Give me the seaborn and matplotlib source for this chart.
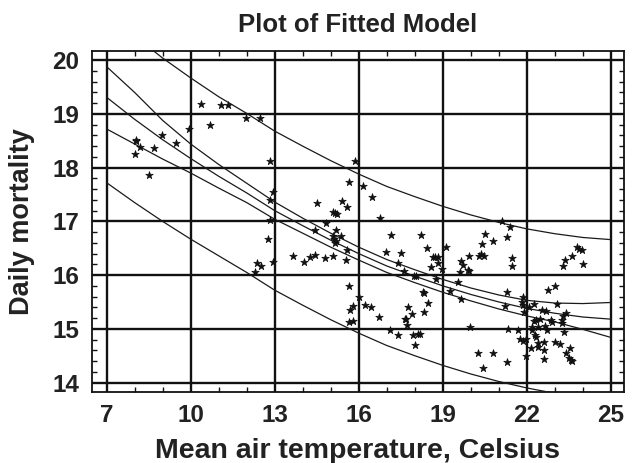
import numpy as np
import pandas as pd
import matplotlib
matplotlib.use("Agg")
import matplotlib.pyplot as plt
import seaborn as sns
from matplotlib.ticker import MultipleLocator

# ---- data ----
temp = [8.00, 8.05, 8.05, 8.19, 8.51, 8.70, 8.98, 9.49, 9.93, 10.37, 10.71, 11.07, 11.34, 11.96, 12.47,
        12.83, 12.93, 12.83, 12.83, 12.77, 12.93, 12.38, 12.53, 12.31,
        13.64, 14.06, 14.26, 14.45, 14.80, 15.07, 15.54,
        14.50, 15.41, 15.58, 15.07, 15.16, 15.21, 14.83, 14.45, 15.18, 15.37, 15.09, 15.13, 15.18, 15.14, 15.58,
        15.86, 15.65, 16.15, 16.46, 16.75,
        17.16, 16.96, 17.51, 17.42, 17.63,
        15.65, 16.01, 15.81, 15.69, 16.21, 16.43, 15.79, 15.65, 16.74,
        17.75, 17.69, 17.65, 17.74, 17.91, 17.12, 17.42, 17.95, 18.13, 18.20, 18.02,
        18.33, 18.49, 18.28, 18.33, 19.26, 19.54, 19.65,
        18.23, 18.43, 19.11, 18.67, 18.74, 18.82, 18.83, 18.58, 18.99, 17.97, 18.04, 18.76,
        19.65, 19.71, 19.89, 19.94, 19.62, 19.92, 20.29, 20.35, 20.47, 20.51, 20.41, 20.79, 21.30, 21.13, 21.40,
        19.96, 21.30, 21.24, 21.32, 20.25, 20.79, 20.43, 21.29,
        21.46, 21.46, 22.74, 23.01, 21.86, 21.82, 21.86, 22.27, 22.08, 23.09, 21.90, 22.53, 22.69, 23.39, 23.31,
        22.24, 22.34, 22.48, 22.87, 22.89, 23.25, 23.25, 22.20, 22.65, 22.41, 22.71, 21.70, 22.20, 23.34,
        21.76, 21.88, 21.96, 22.30, 22.32, 22.63, 23.01, 23.19, 22.39, 22.41, 22.15, 23.55, 23.40, 22.62,
        21.98, 23.49, 23.58, 23.63, 22.62,
        23.79, 23.86, 23.97, 23.63, 23.37, 23.29, 24.02]
mortality = [18.26, 18.52, 18.49, 18.39, 17.87, 18.36, 18.61, 18.45, 18.72, 19.19, 18.79, 19.17, 19.17, 18.93, 18.92,
             18.12, 17.55, 17.39, 17.03, 16.68, 16.25, 16.23, 16.17, 16.06,
             16.35, 16.25, 16.33, 16.37, 16.32, 16.35, 16.28,
             17.35, 17.38, 17.27, 17.17, 17.15, 17.14, 16.96, 16.83, 16.84, 16.73, 16.73, 16.67, 16.64, 16.60, 16.46,
             18.12, 17.74, 17.65, 17.45, 17.06,
             16.75, 16.43, 16.41, 16.22, 16.07,
             15.79, 15.60, 15.43, 15.35, 15.45, 15.40, 15.15, 15.12, 15.22,
             15.40, 15.18, 15.19, 15.07, 15.28, 14.97, 14.89, 14.88, 14.90, 14.90, 14.69,
             15.32, 15.48, 15.68, 15.67, 15.71, 15.87, 15.56,
             16.74, 16.51, 16.53, 16.33, 16.34, 16.34, 16.23, 16.15, 16.12, 15.99, 15.98, 15.93,
             16.27, 16.19, 16.09, 16.08, 16.06, 16.35, 16.36, 16.40, 16.36, 16.76, 16.58, 16.64, 16.71, 17.01, 16.89,
             15.03, 15.69, 15.42, 15.00, 14.55, 14.55, 14.27, 14.38,
             16.32, 16.17, 15.73, 15.79, 15.60, 15.50, 15.45, 15.47, 15.40, 15.47, 15.32, 15.35, 15.34, 15.29, 15.23,
             15.14, 15.17, 15.19, 15.17, 15.12, 15.17, 15.11, 15.04, 15.06, 15.03, 14.98, 14.97, 14.98, 14.94,
             14.81, 14.78, 14.81, 14.89, 14.85, 14.76, 14.75, 14.72, 14.73, 14.67, 14.64, 14.64, 14.55, 14.61,
             14.50, 14.45, 14.42, 14.41, 14.44,
             16.53, 16.48, 16.46, 16.36, 16.28, 16.16, 16.20]

curve_x = [7, 8, 9, 10, 11, 12, 13, 14, 15, 16, 17, 18, 19, 20, 21, 22, 23, 24, 25]
fit = [19.31, 18.90, 18.52, 18.17, 17.84, 17.53, 17.20, 16.92, 16.65, 16.40, 16.17, 15.98, 15.80, 15.64, 15.50,
       15.38, 15.29, 15.22, 15.18]
conf_upper = [19.88, 19.40, 18.88, 18.44, 18.06, 17.71, 17.36, 17.06, 16.78, 16.52, 16.29, 16.10, 15.92, 15.76,
              15.63, 15.53, 15.48, 15.47, 15.49]
conf_lower = [18.72, 18.44, 18.16, 17.90, 17.62, 17.35, 17.04, 16.78, 16.52, 16.28, 16.05, 15.86, 15.68, 15.52,
              15.37, 15.24, 15.13, 14.99, 14.84]
pred_upper = [20.90, 20.45, 20.04, 19.67, 19.32, 19.01, 18.68, 18.40, 18.13, 17.88, 17.65, 17.46, 17.28, 17.12,
              16.98, 16.86, 16.77, 16.70, 16.66]
pred_lower = [17.72, 17.35, 17.00, 16.67, 16.36, 16.05, 15.72, 15.44, 15.17, 14.92, 14.69, 14.50, 14.32, 14.16,
              14.02, 13.90, 13.80, 13.72, 13.70]

x_ticks = [7, 10, 13, 16, 19, 22, 25]
y_ticks = [14, 15, 16, 17, 18, 19, 20]

# ---- figure ----
sns.set_style("white")
plt.rcParams['font.family'] = ['Liberation Sans', 'DejaVu Sans']

W, H = 632, 463
fig = plt.figure(figsize=(W / 100, H / 100), dpi=100)
L, R, T, B = 91.7, 624.0, 51.0, 391.7
ax = fig.add_axes([L / W, 1 - B / H, (R - L) / W, (B - T) / H])

pts = pd.DataFrame({"temp": temp, "mortality": mortality})
curves = pd.DataFrame({"x": curve_x, "fit": fit, "cu": conf_upper, "cl": conf_lower,
                       "pu": pred_upper, "pl": pred_lower})

for col in ["pu", "cu", "fit", "cl", "pl"]:
    sns.lineplot(data=curves, x="x", y=col, ax=ax, color="#1a1a1a", linewidth=0.9, zorder=3)

sns.scatterplot(data=pts, x="temp", y="mortality", ax=ax, marker="*", s=32, color="#111111",
                edgecolor="#111111", linewidth=0.5, zorder=4)

ax.set_xlim(6.47, 25.47)
ax.set_ylim(13.83, 20.17)
ax.set_xticks(x_ticks)
ax.set_yticks(y_ticks)
ax.set_xticklabels([str(v) for v in x_ticks])
ax.set_yticklabels([str(v) for v in y_ticks])
ax.xaxis.set_minor_locator(MultipleLocator(1))
ax.yaxis.set_minor_locator(MultipleLocator(0.2))

ax.grid(True, which="major", color="#111111", linewidth=1.7, zorder=1)
ax.set_axisbelow(True)
for sp in ax.spines.values():
    sp.set_visible(True)
    sp.set_color("#111111")
    sp.set_linewidth(1.3)

ax.tick_params(which="both", direction="in", top=True, right=True, bottom=True, left=True,
               color="#111111", width=1.0)
ax.tick_params(which="major", length=0, pad=9, labelsize=17.5)
ax.tick_params(which="minor", length=3.5)
for lab in ax.get_xticklabels() + ax.get_yticklabels():
    lab.set_fontweight("bold")
    lab.set_color("#222222")

ax.set_xlabel("Mean air temperature, Celsius", fontsize=20.5, fontweight="bold", color="#222222")
ax.set_ylabel("Daily mortality", fontsize=19.5, fontweight="bold", color="#222222")
ax.xaxis.set_label_coords(0.5, (B - 451) / (B - T))
ax.xaxis.label.set_va("center")
ax.yaxis.set_label_coords((22 - L) / (R - L), 0.5)
ax.yaxis.label.set_va("center")

fig.text((L + R) / 2 / W, 1 - 25 / H, "Plot of Fitted Model", ha="center", va="center",
         fontsize=18.5, fontweight="bold", color="#222222")

fig.savefig("out.png", dpi=100)
